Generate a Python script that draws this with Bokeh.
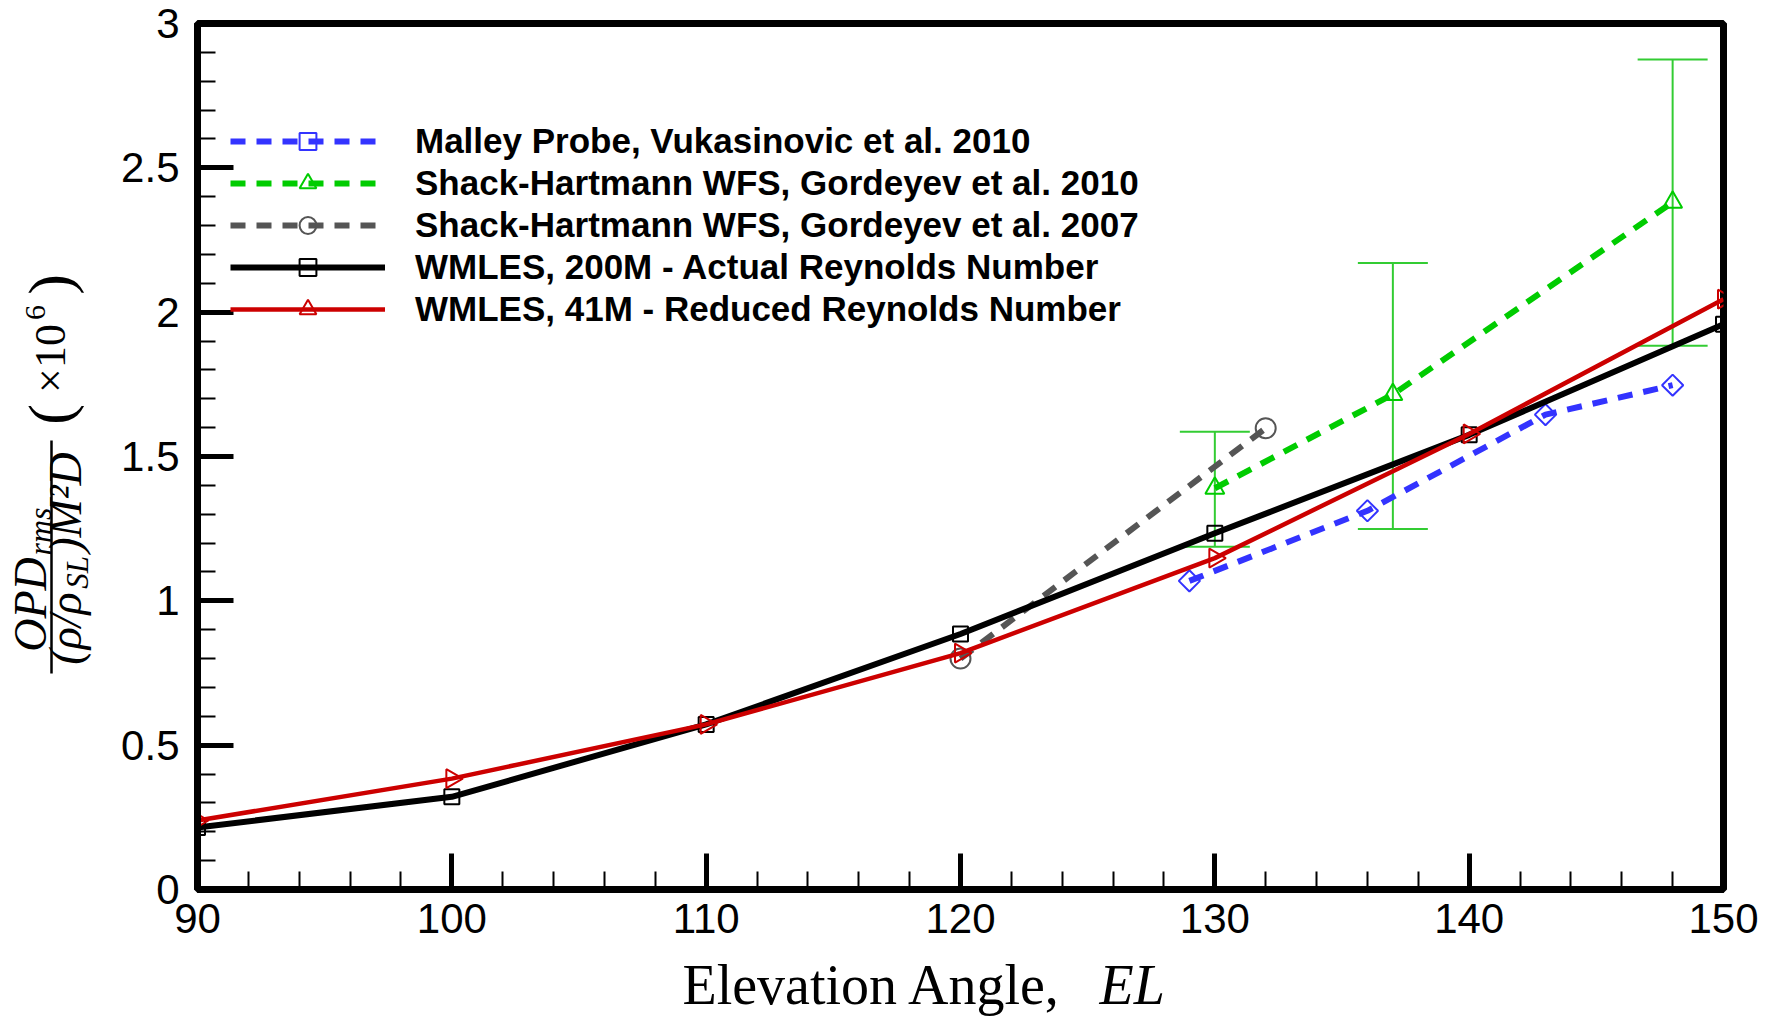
import math
from bokeh.plotting import figure
from bokeh.layouts import row, column
from bokeh.models import (Range1d, SingleIntervalTicker, Legend, LegendItem,
                          Whisker, TeeHead, ColumnDataSource)
from bokeh.embed import file_html
from bokeh.resources import INLINE
from bokeh.core.properties import value

# ---------------- data ----------------
el_wmles200 = [90, 100, 110, 120, 130, 140, 150]
opd_wmles200 = [0.215, 0.321, 0.572, 0.885, 1.234, 1.575, 1.958]

el_wmles41 = [90, 100, 110, 120, 130, 140, 150]
opd_wmles41 = [0.239, 0.384, 0.572, 0.819, 1.148, 1.578, 2.045]

el_malley = [129, 136, 143, 148]
opd_malley = [1.069, 1.312, 1.645, 1.747]

el_sh2010 = [130, 137, 148]
opd_sh2010 = [1.390, 1.715, 2.381]
opd_sh2010_hi = [1.586, 2.170, 2.875]
opd_sh2010_lo = [1.187, 1.249, 1.884]

el_sh2007 = [120, 132]
opd_sh2007 = [0.800, 1.598]

labels = ["Malley Probe, Vukasinovic et al. 2010",
          "Shack-Hartmann WFS, Gordeyev et al. 2010",
          "Shack-Hartmann WFS, Gordeyev et al. 2007",
          "WMLES, 200M - Actual Reynolds Number",
          "WMLES, 41M - Reduced Reynolds Number"]

y_tick_values = [0, 0.5, 1, 1.5, 2, 2.5, 3]
y_tick_labels = ["0", "0.5", "1", "1.5", "2", "2.5", "3"]

# ---------------- layout constants (page pixels) ----------------
LAB_W = 110          # left strip holding the y-axis title
MAIN_W = 1660
MAIN_H = 951
XT_H = 65            # bottom strip holding the x-axis title
BL, BR, BT, BB = 87, 47, 23, 62
FRAME_T = BT
FRAME_B = MAIN_H - BB
BASE_SHIFT = 0.3     # Bokeh draws "alphabetic" text about 0.3 em low

BLUE = "#3333ff"
GREEN = "#00cc00"
GREEN_EB = "#33cc33"
GRAY = "#555555"
RED = "#cc0000"
DASH = "15 11"

p = figure(width=MAIN_W, height=MAIN_H, x_range=Range1d(90, 150), y_range=Range1d(0, 3),
           output_backend="svg", toolbar_location=None,
           min_border_left=BL, min_border_right=BR, min_border_top=BT, min_border_bottom=BB)
p.grid.visible = False
p.outline_line_color = "black"
p.outline_line_width = 7
p.background_fill_color = "white"
p.border_fill_color = "white"

p.xaxis.ticker = SingleIntervalTicker(interval=10, num_minor_ticks=5)
p.yaxis.ticker = SingleIntervalTicker(interval=0.5, num_minor_ticks=5)
p.yaxis.major_label_overrides = {v: s for v, s in zip(y_tick_values, y_tick_labels)}
for ax in (p.xaxis[0], p.yaxis[0]):
    ax.axis_line_width = 7
    ax.axis_line_color = "black"
    ax.major_tick_in = 36
    ax.major_tick_out = 0
    ax.major_tick_line_width = 5
    ax.minor_tick_in = 18
    ax.minor_tick_out = 0
    ax.minor_tick_line_width = 2
    ax.major_label_text_font = "Liberation Sans"
    ax.major_label_text_font_size = "42px"
    ax.major_label_text_color = "black"
p.xaxis.major_label_standoff = 14
p.yaxis.major_label_standoff = 18

# error bars
eb_src = ColumnDataSource(dict(base=el_sh2010, upper=opd_sh2010_hi, lower=opd_sh2010_lo))
p.add_layout(Whisker(source=eb_src, base="base", upper="upper", lower="lower",
                     line_color=GREEN_EB, line_width=2, level="underlay",
                     upper_head=TeeHead(size=70, line_color=GREEN_EB, line_width=2),
                     lower_head=TeeHead(size=70, line_color=GREEN_EB, line_width=2)))

# series
g_line = p.line(el_sh2010, opd_sh2010, line_color=GREEN, line_width=6, line_dash=DASH)
g_mk = p.scatter(el_sh2010, opd_sh2010, marker="triangle", size=19, line_color=GREEN,
                 line_width=2, fill_color=None)
k_line = p.line(el_sh2007, opd_sh2007, line_color=GRAY, line_width=6, line_dash=DASH)
k_mk = p.scatter(el_sh2007, opd_sh2007, marker="circle", size=20, line_color=GRAY,
                 line_width=2, fill_color=None)
b_line = p.line(el_malley, opd_malley, line_color=BLUE, line_width=6, line_dash=DASH)
b_mk = p.scatter(el_malley, opd_malley, marker="square", angle=math.pi / 4, size=15,
                 line_color=BLUE, line_width=2, fill_color=None)
w_line = p.line(el_wmles200, opd_wmles200, line_color="black", line_width=6)
w_mk = p.scatter(el_wmles200, opd_wmles200, marker="square", size=15, line_color="black",
                 line_width=2, fill_color=None)
r_line = p.line(el_wmles41, opd_wmles41, line_color=RED, line_width=4.5)
r_mk = p.scatter(el_wmles41, opd_wmles41, marker="triangle", angle=-math.pi / 2, size=19,
                 line_color=RED, line_width=2, fill_color=None)

items = [LegendItem(label=labels[0], renderers=[b_line, b_mk]),
         LegendItem(label=labels[1], renderers=[g_line, g_mk]),
         LegendItem(label=labels[2], renderers=[k_line, k_mk]),
         LegendItem(label=labels[3], renderers=[w_line, w_mk]),
         LegendItem(label=labels[4], renderers=[r_line, r_mk])]
legend = Legend(items=items, location=(33, FRAME_B - 330), padding=0, spacing=0, margin=0,
                glyph_width=155, glyph_height=42, label_height=42, label_standoff=30,
                label_text_font="Liberation Sans", label_text_font_style="bold",
                label_text_font_size="35px", label_text_color="black",
                background_fill_alpha=0, border_line_alpha=0)
p.add_layout(legend)


def strip(w, h, y0, y1, bt=0, bb=0):
    """A bare figure whose data units are page pixels (y = -page_y)."""
    f = figure(width=w, height=h, x_range=Range1d(0, w), y_range=Range1d(-y1, -y0),
               output_backend="svg", toolbar_location=None, min_border=0,
               min_border_top=bt, min_border_bottom=bb,
               x_axis_location=None, y_axis_location=None)
    f.grid.visible = False
    f.outline_line_color = None
    f.background_fill_color = "white"
    f.border_fill_color = "white"
    return f


# ---------------- y-axis title (frame aligned with the main frame) ----------------
lf = strip(LAB_W, MAIN_H, FRAME_T, FRAME_B, bt=BT, bb=BB)


def rtext(base_x, cy, txt, size, style):
    # rotated text, reading upwards; base_x is the wanted baseline position
    lf.text(x=[base_x - BASE_SHIFT * size], y=[-cy], text=[txt], angle=math.pi / 2,
            text_font=value("Liberation Serif"), text_font_style=style,
            text_font_size=f"{size}px", text_align="center", text_baseline="alphabetic",
            text_color="black")


# numerator  OPD_rms
rtext(44, 604, "OPD", 46, "italic")
rtext(49, 531, "rms", 32, "italic")
# fraction bar
lf.segment(x0=[51], y0=[-440], x1=[51], y1=[-673], line_color="black", line_width=2.5)
# denominator  (rho/rho_SL) M^2 D
rtext(79, 628, "(\u03c1/\u03c1", 46, "italic")
rtext(86, 572, "SL", 31, "italic")
rtext(79, 502, ")M\u00b2D", 46, "italic")
# (x 10^6)
rtext(68, 414, "(", 62, "normal")
rtext(63, 358, "\u00d710", 44, "normal")
rtext(44, 312, "6", 30, "normal")
rtext(68, 284, ")", 62, "normal")

# ---------------- x-axis title ----------------
xf = strip(LAB_W + MAIN_W, XT_H, MAIN_H, MAIN_H + XT_H)
XSZ = 56
XBASE = 1001
lbl = dict(text_font=value("Liberation Serif"), text_font_size=f"{XSZ}px",
           text_align="left", text_baseline="alphabetic", text_color="black")
xf.text(x=[682], y=[-(XBASE - BASE_SHIFT * XSZ)], text=["Elevation Angle, "],
        text_font_style="normal", **lbl)
xf.text(x=[1099], y=[-(XBASE - BASE_SHIFT * XSZ)], text=["EL"],
        text_font_style="italic", **lbl)

layout = column(row(lf, p), xf)
open("out.html", "w").write(file_html(layout, INLINE))
